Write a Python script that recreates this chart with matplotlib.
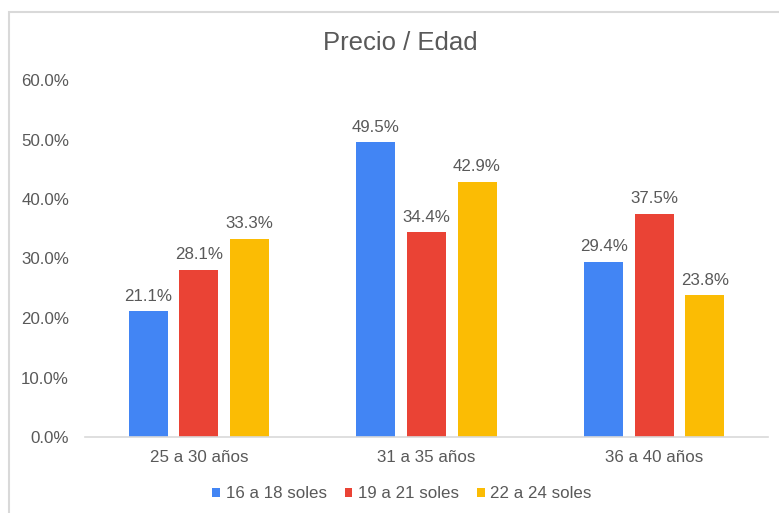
import numpy as np
import matplotlib.pyplot as plt
from matplotlib.patches import Rectangle

plt.rcParams['font.family'] = ['Liberation Sans', 'DejaVu Sans']

grupos = ['25 a 30 años', '31 a 35 años', '36 a 40 años']
series = ['16 a 18 soles', '19 a 21 soles', '22 a 24 soles']
v_16_18 = [21.1, 49.5, 29.4]
v_19_21 = [28.1, 34.4, 37.5]
v_22_24 = [33.3, 42.9, 23.8]
colores = ['#4285F4', '#EA4335', '#FBBC04']

gris = '#595959'
fs = 12.2

fig = plt.figure(figsize=(7.79, 5.13), dpi=100)
# marco gris del gráfico
fig.patches.append(Rectangle((9 / 779, -0.1), 1.2, 1 - 12 / 513 + 0.1,
                             transform=fig.transFigure, fill=False,
                             edgecolor='#d9d9d9', linewidth=1.5))

ax = fig.add_axes([85 / 779, 1 - 437 / 513, 683 / 779, (437 - 80) / 513])

x = np.arange(len(grupos))
ancho = 0.171
paso = 0.222
for i, (vals, nombre) in enumerate(zip([v_16_18, v_19_21, v_22_24], series)):
    pos = x + (i - 1) * paso
    ax.bar(pos, vals, ancho, color=colores[i], label=nombre, zorder=2)
    for p, v in zip(pos, vals):
        ax.text(p, v + 1.3, f'{v:.1f}%', ha='center', va='bottom',
                fontsize=fs, color=gris)

ax.set_xlim(-0.5, 2.5)
ax.set_ylim(0, 60)
ax.set_yticks(np.arange(0, 61, 10))
ax.set_yticklabels([f'{t:.1f}%' for t in np.arange(0, 61, 10)])
ax.set_xticks(x)
ax.set_xticklabels(grupos)
ax.tick_params(axis='both', length=0, labelsize=fs, labelcolor=gris)
ax.tick_params(axis='y', pad=11.5)
ax.tick_params(axis='x', pad=9)
for s in ['top', 'right', 'left']:
    ax.spines[s].set_visible(False)
ax.spines['bottom'].set_color('#d9d9d9')
ax.spines['bottom'].set_linewidth(1.2)

fig.text(400 / 779, 1 - 43 / 513, 'Precio / Edad', ha='center', va='center',
         fontsize=18.5, color=gris)

leg = fig.legend(loc='center', bbox_to_anchor=(402 / 779, 1 - 494 / 513), ncol=3,
                 frameon=False, fontsize=fs, handlelength=0.45, handleheight=0.45,
                 handletextpad=0.35, columnspacing=1.05, labelcolor=gris)

fig.savefig('out.png', dpi=100)
